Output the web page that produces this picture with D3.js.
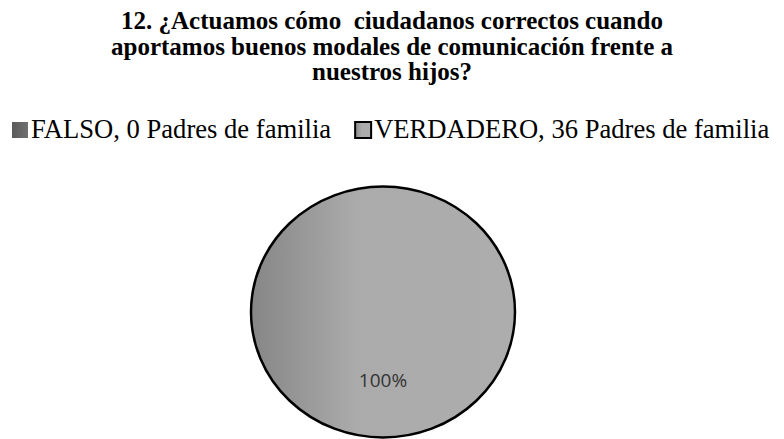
<!DOCTYPE html>
<html>
<head>
<meta charset="utf-8">
<script src="https://cdn.jsdelivr.net/npm/d3@7"></script>
<style>
  html, body { margin: 0; padding: 0; background: #fff; }
  svg { display: block; }
</style>
</head>
<body>
<script>
// Survey question 12: answers from parents
const titleLines = [
  "12. ¿Actuamos cómo  ciudadanos correctos cuando",
  "aportamos buenos modales de comunicación frente a",
  "nuestros hijos?"
];
const categories = ["FALSO", "VERDADERO"];
const values = [0, 36];
const unitLabel = "Padres de familia";

const W = 784, H = 439;
const svg = d3.select("body").append("svg").attr("width", W).attr("height", H);

// Slice gradients: darker on the left edge, flat grey toward the right
const defs = svg.append("defs");
const grad = defs.append("linearGradient").attr("id", "gVerd")
  .attr("x1", "0%").attr("x2", "100%").attr("y1", "0%").attr("y2", "0%");
grad.append("stop").attr("offset", "0%").attr("stop-color", "#868686");
grad.append("stop").attr("offset", "40%").attr("stop-color", "#ababab");
grad.append("stop").attr("offset", "100%").attr("stop-color", "#adadad");
const gradF = defs.append("linearGradient").attr("id", "gFalso")
  .attr("x1", "0%").attr("x2", "100%");
gradF.append("stop").attr("offset", "0%").attr("stop-color", "#5a5a5a");
gradF.append("stop").attr("offset", "100%").attr("stop-color", "#707070");
const fills = ["url(#gFalso)", "url(#gVerd)"];

const serif = "'Liberation Serif', 'Times New Roman', serif";

// Title (tight leading, three centred lines)
svg.append("g").selectAll("text").data(titleLines).join("text")
  .attr("x", W / 2)
  .attr("y", (d, i) => 29 + i * 25.5)
  .attr("text-anchor", "middle")
  .style("white-space", "pre")
  .style("font-family", serif)
  .style("font-weight", "bold")
  .style("font-size", "25px")
  .attr("fill", "#000")
  .text(d => d);

// Legend
const legend = svg.append("g");
let lx = 12;
categories.forEach((c, i) => {
  const g = legend.append("g");
  g.append("rect")
    .attr("x", lx).attr("y", 122)
    .attr("width", 16).attr("height", 16)
    .attr("fill", fills[i])
    .attr("stroke", i === 1 ? "#000" : "none")
    .attr("stroke-width", 2);
  const t = g.append("text")
    .attr("x", lx + 19).attr("y", 138)
    .style("font-family", serif)
    .style("font-size", "26.6px")
    .attr("fill", "#000")
    .text(`${c}, ${values[i]} ${unitLabel}`);
  lx += 19 + t.node().getComputedTextLength() + 24;
});

// Pie
const cx = 383, cy = 312, rx = 132, ry = 125.5;
const pie = d3.pie().sort(null).startAngle(0).endAngle(2 * Math.PI);
const arcs = pie(values);
const arc = d3.arc().innerRadius(0).outerRadius(rx);
const total = d3.sum(values);

const pieG = svg.append("g")
  .attr("transform", `translate(${cx},${cy}) scale(1,${ry / rx})`);
pieG.selectAll("path").data(arcs).join("path")
  .attr("d", arc)
  .attr("fill", (d, i) => fills[i])
  .attr("stroke", "#000")
  .attr("stroke-width", 2.5)
  .attr("vector-effect", "non-scaling-stroke");

// Percentage labels for the non-empty slices
svg.append("g").selectAll("text").data(arcs.filter(d => d.value > 0)).join("text")
  .attr("x", d => (d.endAngle - d.startAngle >= 2 * Math.PI - 1e-6) ? cx : cx + arc.centroid(d)[0])
  .attr("y", cy + 75)
  .attr("text-anchor", "middle")
  .style("font-family", "'Open Sans', 'Liberation Sans', Arial, sans-serif")
  .style("font-size", "19px")
  .attr("fill", "#333")
  .text(d => Math.round(d.value / total * 100) + "%");
</script>
</body>
</html>
